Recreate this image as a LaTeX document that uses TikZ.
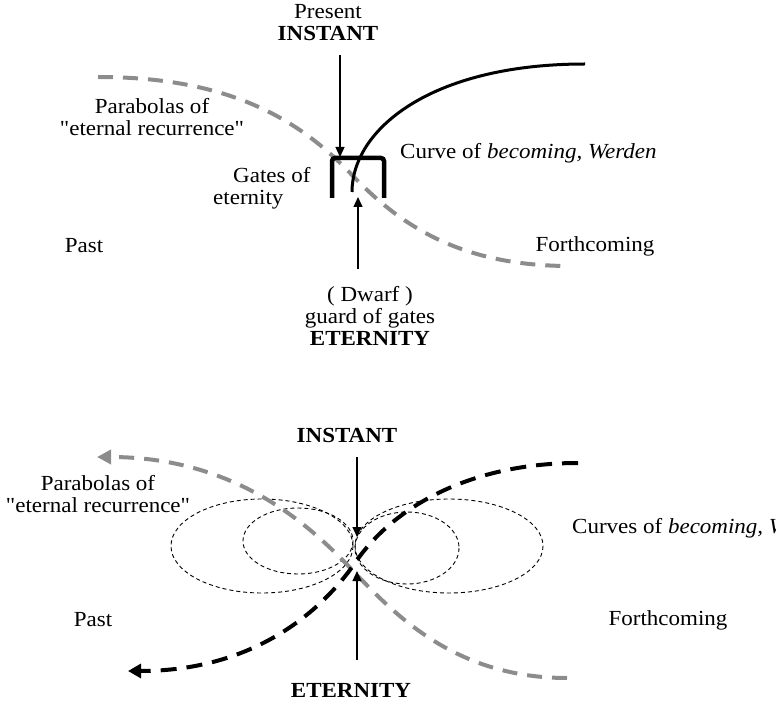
\documentclass[tikz,border=0pt]{standalone}
\usepackage{fontspec}
\setmainfont{Liberation Serif}[FakeStretch=1.07]
\newfontfamily\quotefont{Liberation Serif}[FakeStretch=1.07]
\newcommand{\dq}{{\quotefont"}}
\usetikzlibrary{arrows.meta, positioning}

\tikzset{
  lbl/.style={font=\fontsize{21.5}{22}\selectfont, align=center, inner sep=0pt},
  pointer/.style={line width=1.3pt, -{Triangle[length=10pt,width=9pt]}},
  recur/.style={black!45, line width=4pt, dash pattern=on 15pt off 10pt},
  becoming/.style={black, line width=4pt, dash pattern=on 16pt off 10pt},
  orbit/.style={line width=0.9pt, dash pattern=on 4pt off 3pt},
  gate/.style={line width=4.5pt, rounded corners=3pt}
}

\begin{document}
\begin{tikzpicture}[x=1pt, y=-1pt]
  \useasboundingbox (0,0) rectangle (776,703);

  % ---- upper picture ----
  % Labels
  \node[lbl] (present) at (328,23) {Present\\\textbf{INSTANT}};
  \node[lbl] (parab1) at (152,117) {Parabolas of\\\dq eternal recurrence\dq};
  \node[lbl, anchor=west] (curve1) at (400,153) {Curve of \textit{becoming, Werden}};
  \node[lbl, align=left, anchor=west] (gates) at (213,188) {\hspace*{20pt}Gates of\\eternity};
  \node[lbl] (past1) at (84,246) {Past};
  \node[lbl] (forth1) at (595,246) {Forthcoming};
  \node[lbl] (dwarf) at (370,316) {( Dwarf )\\guard of gates\\\textbf{ETERNITY}};

  % Parabola of eternal recurrence
  \draw[recur] (98,77) .. controls (230,77) and (300,120) .. (352,175)
    .. controls (400,225) and (460,266) .. (570,266);

  % Curve of becoming
  \draw[line width=3pt] (585,64) .. controls (430,64) and (352,130) .. (352,192);

  % Gates of eternity
  \draw[gate] (332,198) -- (332,158) -- (384,158) -- (384,198);

  % Instant and eternity pointers
  \coordinate (instA) at (340,55);
  \coordinate (gateA) at (340,157);
  \coordinate (eterA) at (358,269);
  \coordinate (gateB) at (358,197);
  \draw[pointer] (instA) -- (gateA);
  \draw[pointer] (eterA) -- (gateB);

  % ---- lower picture ----
  % Labels
  \node[lbl] (instant2) at (347,435) {\textbf{INSTANT}};
  \node[lbl] (parab2) at (98,494) {Parabolas of\\\dq eternal recurrence\dq};
  \node[lbl, anchor=west] (curve2) at (572,528) {Curves of \textit{becoming, Werden}};
  \node[lbl] (past2) at (93,620) {Past};
  \node[lbl] (forth2) at (668,620) {Forthcoming};
  \node[lbl] (eternity2) at (351,690) {\textbf{ETERNITY}};

  % Orbits around the instant
  \foreach \cx/\cy/\rx/\ry in {262/546/91/47, 298/541/55/33, 407/548/52/36, 449/546/94/47} {
    \draw[orbit] (\cx,\cy) ellipse[x radius=\rx, y radius=\ry];
  }

  % Parabola of eternal recurrence
  \draw[recur, -{Triangle[length=14pt,width=14pt]}]
    (567,678) .. controls (460,678) and (400,620) .. (357,575)
    .. controls (320,536) and (245,457) .. (97,457);

  % Curves of becoming
  \draw[becoming, -{Triangle[length=13pt,width=14pt]}]
    (578,463) .. controls (480,463) and (400,500) .. (357,560)
    .. controls (320,615) and (250,671) .. (128,671);

  % Instant and eternity pointers
  \coordinate (instB) at (357,457);
  \coordinate (midA) at (357,537);
  \coordinate (eterB) at (357,660);
  \coordinate (midB) at (357,571);
  \draw[pointer] (instB) -- (midA);
  \draw[pointer] (eterB) -- (midB);
\end{tikzpicture}
\end{document}
